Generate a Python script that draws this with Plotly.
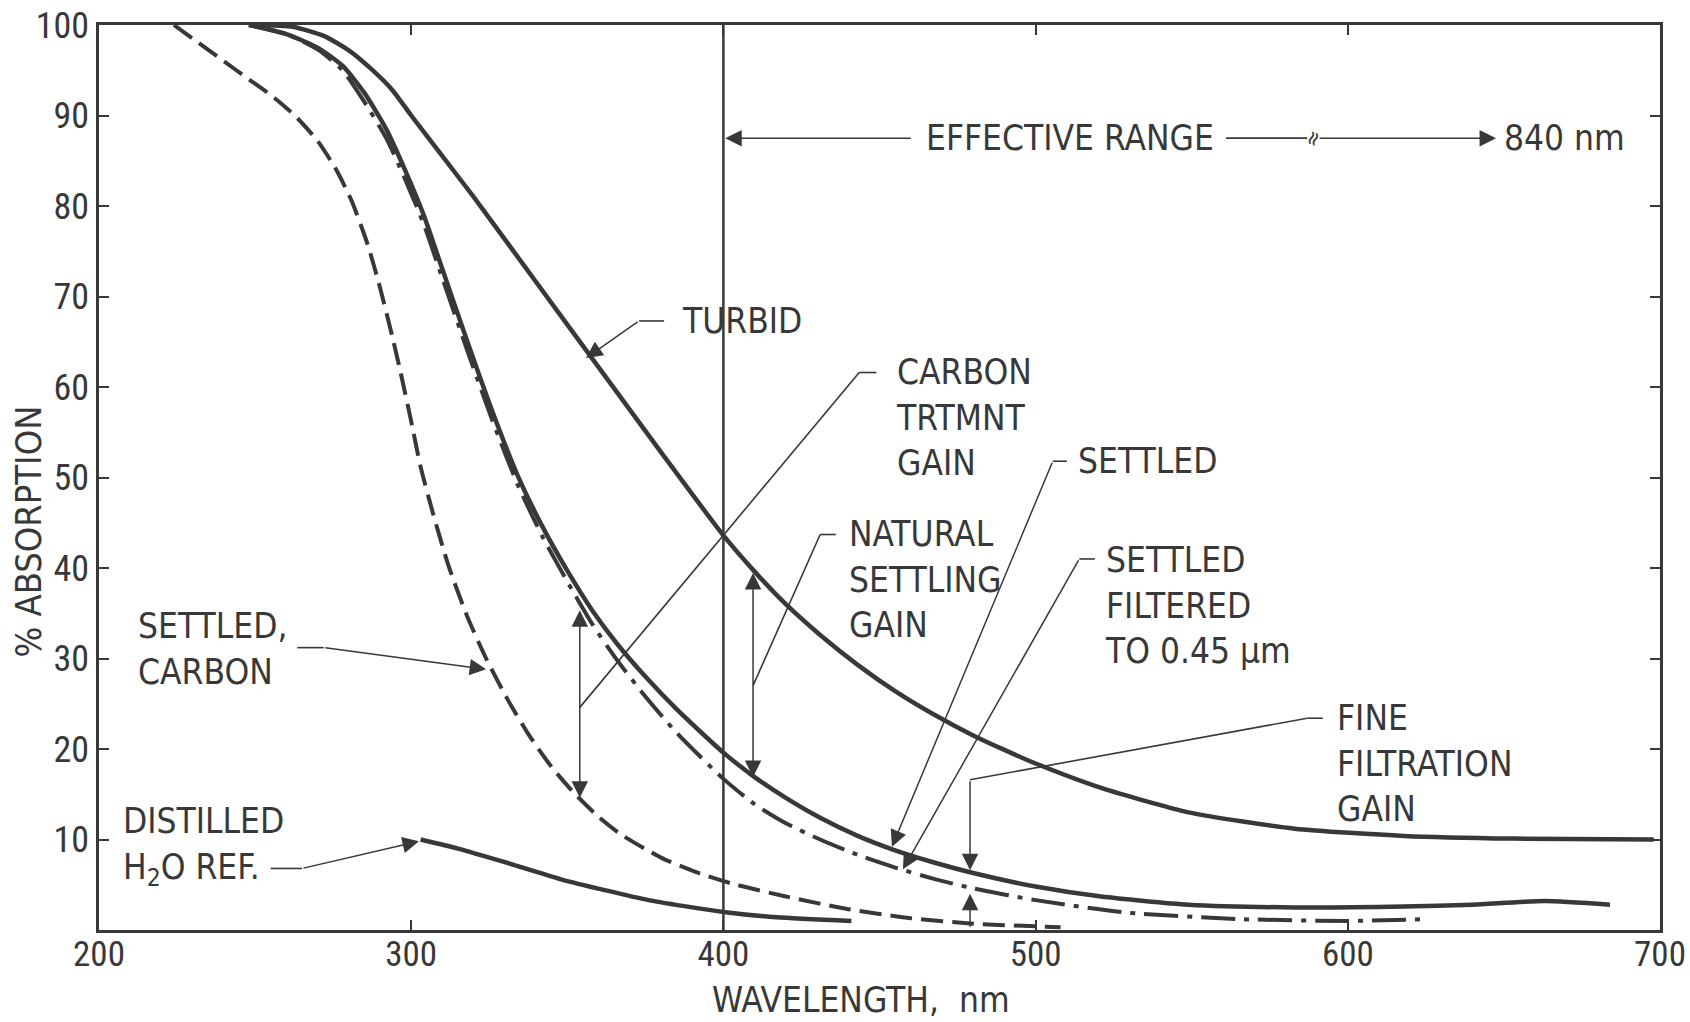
import plotly.graph_objects as go

# ---------------- data (wavelength nm, % absorption) ----------------
turbid_nm = [250, 262, 272, 280, 287, 294, 300, 310, 320, 340, 360, 380, 400,
             410, 420, 431, 443, 455, 468, 480, 490, 500, 521, 549, 583, 618, 653, 698]
turbid_pct = [100, 99.8, 98.8, 97.2, 95.2, 92.8, 90, 85.5, 81, 71.6, 62.2, 52.8, 43.6,
              39.6, 36, 32.6, 29.3, 26.4, 23.7, 21.5, 19.9, 18.4, 15.7, 13, 11.2, 10.4, 10.1, 10]

settled_nm = [248, 260, 270, 278, 285, 292, 298, 304, 310, 318, 326, 334, 342, 350, 358, 366,
              375, 385, 400, 410, 420, 431, 443, 455, 468, 480, 500, 521, 549, 583, 618, 640, 663, 684]
settled_pct = [100, 99, 97.5, 95.5, 92.5, 88.5, 84, 79, 73, 65, 57.3, 50.3, 44.6, 39.7, 35.3, 31.6,
               28, 24.4, 19.6, 16.9, 14.6, 12.4, 10.4, 8.8, 7.4, 6.3, 4.8, 3.7, 2.8, 2.5, 2.6, 2.8, 3.2, 2.8]

filtered_nm = [248, 260, 270, 278, 285, 292, 298, 304, 310, 318, 326, 334, 342, 350, 358, 366,
               375, 385, 400, 410, 420, 431, 443, 455, 468, 480, 500, 530, 566, 600, 625]
filtered_pct = [100, 99, 97.3, 95, 91.5, 87.5, 83, 78, 72, 64, 56.3, 49.3, 43.5, 38.5, 33.8, 29.8,
                25.8, 21.8, 16.7, 13.9, 11.8, 10.0, 8.3, 6.9, 5.6, 4.6, 3.3, 1.9, 1.2, 1.0, 1.2]

carbon_nm = [224, 232, 240, 248, 256, 263, 270, 276, 281, 286, 290, 294, 297, 300, 303, 307, 312,
             318, 324, 331, 338, 345, 352, 360, 367, 380, 392, 403, 420, 440, 460, 480, 508]
carbon_pct = [100, 98, 96, 94, 92, 89.9, 87.2, 84, 80.5, 75.8, 71, 65.5, 61, 56.2, 51.2, 46, 40.2,
              34.6, 30, 25.4, 21.4, 18, 15.2, 12.5, 10.6, 8.0, 6.3, 5.1, 3.7, 2.3, 1.3, 0.7, 0.3]

distilled_nm = [303, 315, 330, 348, 362, 376, 390, 400, 417, 441]
distilled_pct = [10, 9.0, 7.5, 5.6, 4.4, 3.3, 2.5, 2.0, 1.4, 1.0]

x_ticks = [200, 300, 400, 500, 600, 700]
y_ticks = [10, 20, 30, 40, 50, 60, 70, 80, 90, 100]

INK = "#383838"
FONT = "DejaVu Sans Condensed, Liberation Sans Narrow, sans-serif"
TICKFONT = "Roboto Condensed, Liberation Sans Narrow, DejaVu Sans Condensed, sans-serif"

fig = go.Figure()

def curve(x, y, dash="solid", width=4.5):
    fig.add_trace(go.Scatter(x=x, y=y, mode="lines",
                             line=dict(color=INK, width=width, dash=dash, shape="spline", smoothing=0.6),
                             showlegend=False, hoverinfo="skip"))

curve(turbid_nm, turbid_pct)
curve(settled_nm, settled_pct)
curve(filtered_nm, filtered_pct, dash="34px,9px,5px,9px", width=4)
curve(carbon_nm, carbon_pct, dash="22px,9px", width=4)
curve(distilled_nm, distilled_pct)

# vertical line at 400 nm
fig.add_shape(type="line", x0=400, x1=400, y0=0, y1=100, xref="x", yref="y",
              line=dict(color=INK, width=2.5))

ann = []
def text(x, y, s, size=35, xanchor="left", angle=0):
    ann.append(dict(x=x, y=y, xref="x", yref="y", text=s, showarrow=False,
                    xanchor=xanchor, yanchor="middle", align="left", textangle=angle,
                    font=dict(family=FONT, size=size, color=INK)))

def arrow(x, y, ax, ay, both=False, head=2, size=2.2):
    ann.append(dict(x=x, y=y, ax=ax, ay=ay, xref="x", yref="y", axref="x", ayref="y",
                    text="", showarrow=True, arrowhead=head, arrowsize=size, arrowwidth=1.5,
                    arrowcolor=INK, arrowside="end+start" if both else "end",
                    startarrowhead=head, startarrowsize=size))

def stub(x0, y0, x1, y1):
    fig.add_shape(type="line", x0=x0, x1=x1, y0=y0, y1=y1, xref="x", yref="y",
                  line=dict(color=INK, width=1.6))

# TURBID
text(386, 67.3, "TURBID")
stub(373, 67.3, 381, 67.3)
arrow(356, 63.2, 373, 67.3)

# CARBON TRTMNT GAIN
text(454.5, 56.6, "CARBON<br>TRTMNT<br>GAIN")
stub(443.5, 61.6, 449, 61.6)
stub(354, 24.6, 443.5, 61.6)
arrow(354, 14.6, 354, 35.5, both=True)

# NATURAL SETTLING GAIN
text(439.5, 38.7, "NATURAL<br>SETTLING<br>GAIN")
stub(431, 43.7, 436, 43.7)
stub(409.5, 27, 431, 43.7)
arrow(409.5, 16.9, 409.5, 39.6, both=True)

# SETTLED
text(513, 51.8, "SETTLED")
stub(505.5, 51.8, 510, 51.8)
arrow(454, 9.2, 505.5, 51.8)

# SETTLED FILTERED
text(521.5, 35.9, "SETTLED<br>FILTERED<br>TO 0.45 \u03bcm")
stub(514, 41, 519, 41)
arrow(457.5, 6.7, 514, 41)

# FINE FILTRATION GAIN
text(596, 18.4, "FINE<br>FILTRATION<br>GAIN")
stub(587, 23.4, 592, 23.4)
stub(479, 16.6, 587, 23.4)
arrow(479, 6.6, 479, 16.6)
arrow(479, 4.0, 479, 0.2)

# SETTLED, CARBON
text(212, 31.1, "SETTLED,<br>CARBON")
stub(263.5, 31.2, 272, 31.2)
arrow(324, 28.8, 272, 31.2)

# DISTILLED H2O REF.
text(207, 9.2, "DISTILLED<br>H<sub>2</sub>O REF.")
stub(255, 6.8, 265, 6.8)
arrow(302.5, 9.8, 265, 6.8)

# EFFECTIVE RANGE
text(511, 87.5, "EFFECTIVE RANGE", xanchor="center")
arrow(400.6, 87.5, 460.5, 87.5)
stub(561, 87.5, 587, 87.5)
arrow(647.5, 87.5, 590.5, 87.5)
text(588.7, 87.5, "\u2248", size=22, xanchor="center", angle=-70)
text(649.5, 87.5, "840 nm")

# axis titles placed in paper space
ann.append(dict(x=0.488, y=-0.077, xref="paper", yref="paper", text="WAVELENGTH,  nm",
                showarrow=False, xanchor="center", yanchor="middle",
                font=dict(family=FONT, size=35, color=INK)))
ann.append(dict(x=-0.045, y=0.44, xref="paper", yref="paper", text="% ABSORPTION",
                showarrow=False, xanchor="center", yanchor="middle", textangle=-90,
                font=dict(family=FONT, size=36, color=INK)))

fig.update_layout(
    width=1690, height=1022,
    margin=dict(l=99, r=30, t=25, b=92),
    paper_bgcolor="white", plot_bgcolor="white",
    annotations=ann,
    font=dict(family=FONT, color=INK),
    xaxis=dict(range=[200, 700], tickvals=x_ticks, ticks="inside", ticklen=10, tickwidth=2,
               tickcolor=INK, showline=True, linewidth=2.5, linecolor=INK, mirror="allticks",
               showgrid=False, zeroline=False, automargin=False,
               tickfont=dict(family=TICKFONT, size=35, color=INK)),
    yaxis=dict(range=[0, 100], tickvals=y_ticks, ticks="inside", ticklen=10, tickwidth=2,
               tickcolor=INK, showline=True, linewidth=2.5, linecolor=INK, mirror="allticks",
               showgrid=False, zeroline=False, automargin=False,
               tickfont=dict(family=TICKFONT, size=36, color=INK)),
)
try:
    fig.update_xaxes(ticklabeloverflow="allow", ticklabelstandoff=-9)
    fig.update_yaxes(ticklabeloverflow="allow", ticklabelstandoff=0)
except Exception:
    pass

fig.write_html("out.html", config={"displayModeBar": False},
               post_script="document.body.style.margin='0px';")
